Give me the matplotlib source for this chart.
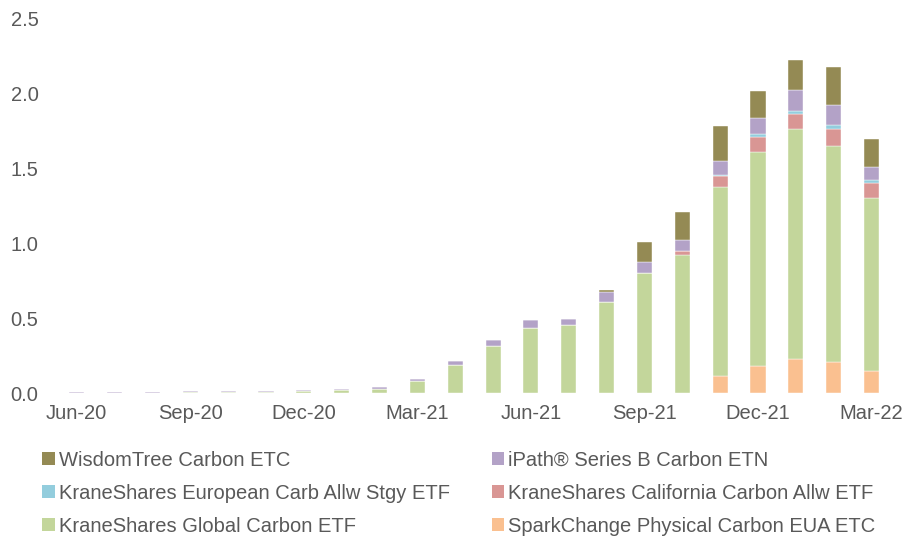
import numpy as np
import matplotlib
matplotlib.use("Agg")
import matplotlib.pyplot as plt
from matplotlib.patches import Patch

plt.rcParams['font.family'] = ['Liberation Sans', 'DejaVu Sans']

# monthly, Jun-20 .. Mar-22
months = ['Jun-20', 'Jul-20', 'Aug-20', 'Sep-20', 'Oct-20', 'Nov-20', 'Dec-20',
          'Jan-21', 'Feb-21', 'Mar-21', 'Apr-21', 'May-21', 'Jun-21', 'Jul-21',
          'Aug-21', 'Sep-21', 'Oct-21', 'Nov-21', 'Dec-21', 'Jan-22', 'Feb-22', 'Mar-22']

spark = [0, 0, 0, 0, 0, 0, 0, 0, 0, 0, 0, 0, 0, 0, 0, 0, 0,
         0.117, 0.182, 0.227, 0.207, 0.147]
krane_global = [0, 0, 0, 0.004, 0.005, 0.009, 0.014, 0.020, 0.029, 0.080, 0.189,
                0.313, 0.435, 0.453, 0.609, 0.800, 0.922, 1.260, 1.429, 1.535, 1.442, 1.156]
krane_calif = [0, 0, 0, 0, 0, 0, 0, 0, 0, 0, 0, 0, 0, 0, 0, 0,
               0.024, 0.071, 0.100, 0.098, 0.111, 0.096]
krane_euro = [0, 0, 0, 0, 0, 0, 0, 0, 0, 0, 0, 0, 0, 0, 0, 0, 0,
              0.005, 0.016, 0.022, 0.029, 0.024]
ipath = [0.008, 0.009, 0.010, 0.007, 0.006, 0.005, 0.006, 0.007, 0.013, 0.013, 0.028,
         0.044, 0.051, 0.044, 0.065, 0.073, 0.073, 0.097, 0.107, 0.140, 0.133, 0.087]
wisdom = [0, 0, 0, 0, 0, 0, 0, 0, 0, 0, 0, 0, 0, 0,
          0.011, 0.136, 0.191, 0.231, 0.178, 0.200, 0.253, 0.187]

# bottom to top
series = [
    ('SparkChange Physical Carbon EUA ETC', spark, '#fac090'),
    ('KraneShares Global Carbon ETF', krane_global, '#c3d69b'),
    ('KraneShares California Carbon Allw ETF', krane_calif, '#d99694'),
    ('KraneShares European Carb Allw Stgy ETF', krane_euro, '#93cddd'),
    ('iPath® Series B Carbon ETN', ipath, '#b3a2c7'),
    ('WisdomTree Carbon ETC', wisdom, '#948a54'),
]

fig = plt.figure(figsize=(9.04, 5.37), dpi=100)
ax = fig.add_axes([0.064, 0.268, 0.921, 0.698])

x = np.arange(len(months))
bottom = np.zeros(len(months))
handles = {}
for name, vals, col in series:
    vals = np.array(vals)
    ax.bar(x, vals, 0.4, bottom=bottom, color=col, edgecolor='white', linewidth=0.3)
    bottom += vals
    handles[name] = Patch(facecolor=col, edgecolor='none')

ax.set_xlim(-0.5, len(months) - 0.5)
ax.set_ylim(0, 2.5)
ax.set_yticks([0, 0.5, 1.0, 1.5, 2.0, 2.5])
ax.set_yticklabels(['0.0', '0.5', '1.0', '1.5', '2.0', '2.5'])
ax.set_xticks(x[::3])
ax.set_xticklabels(months[::3])
for s in ax.spines.values():
    s.set_visible(False)
ax.tick_params(axis='both', length=0, labelsize=14.5, labelcolor='#595959')
ax.tick_params(axis='y', pad=14)
ax.tick_params(axis='x', pad=8)

# legend laid out row-wise like the original
order = ['WisdomTree Carbon ETC', 'KraneShares European Carb Allw Stgy ETF',
         'KraneShares Global Carbon ETF', 'iPath® Series B Carbon ETN',
         'KraneShares California Carbon Allw ETF', 'SparkChange Physical Carbon EUA ETC']
fig.legend([handles[n] for n in order], order, ncol=2, frameon=False,
           loc='upper left', bbox_to_anchor=(0.047, 0.161), borderaxespad=0,
           borderpad=0, fontsize=14.5, labelcolor='#595959',
           handlelength=0.6, handleheight=0.6, handletextpad=0.2,
           labelspacing=0.7, columnspacing=2.1)

fig.savefig('out.png', dpi=100)
